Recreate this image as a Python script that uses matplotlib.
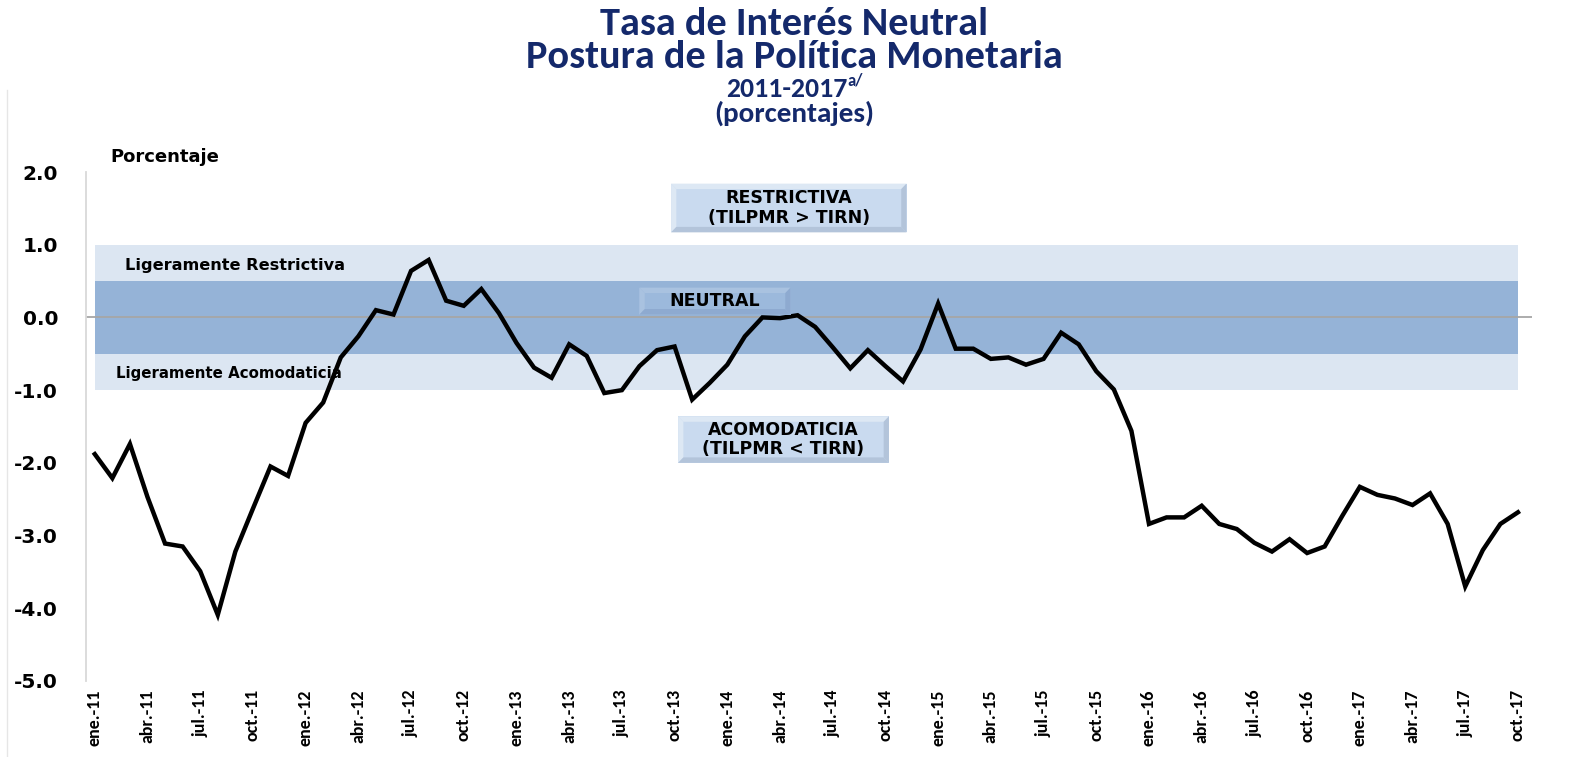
import numpy as np
import matplotlib.pyplot as plt
from matplotlib.patches import Rectangle, Polygon

# datos mensuales ene-2011 a oct-2017
meses = ['ene.', 'feb.', 'mar.', 'abr.', 'may.', 'jun.',
         'jul.', 'ago.', 'sep.', 'oct.', 'nov.', 'dic.']
anios = ['11', '12', '13', '14', '15', '16', '17']

postura = [-1.88, -2.21, -1.74, -2.47, -3.11, -3.15, -3.49, -4.09, -3.22, -2.63, -2.05, -2.18,
           -1.45, -1.17, -0.55, -0.26, 0.10, 0.04, 0.64, 0.79, 0.23, 0.16, 0.39, 0.06,
           -0.35, -0.69, -0.83, -0.37, -0.53, -1.04, -1.00, -0.67, -0.45, -0.40, -1.13, -0.90,
           -0.65, -0.26, 0.00, -0.01, 0.03, -0.13, -0.41, -0.70, -0.45, -0.67, -0.88, -0.44,
           0.19, -0.43, -0.43, -0.57, -0.55, -0.65, -0.57, -0.21, -0.37, -0.74, -0.99, -1.56,
           -2.84, -2.75, -2.75, -2.59, -2.84, -2.91, -3.10, -3.22, -3.05, -3.24, -3.15, -2.73,
           -2.33, -2.44, -2.49, -2.58, -2.42, -2.84, -3.70, -3.20, -2.84, -2.68]

fechas = [f'{m}-{a}' for a in anios for m in meses][:len(postura)]

rango_neutral = (-0.5, 0.5)
rango_ligero = (-1.0, 1.0)
yticks = [2.0, 1.0, 0.0, -1.0, -2.0, -3.0, -4.0, -5.0]

navy = '#14296b'
cal = ['Carlito', 'DejaVu Sans']

fig = plt.figure(figsize=(15.76, 7.57), dpi=100)
ax = fig.add_axes([86 / 1576, 76 / 757, 1446 / 1576, 509 / 757])

x = np.arange(len(postura))

# bandas
ax.fill_between([x[0], x[-1]], rango_ligero[0], rango_ligero[1], color='#dce6f2', lw=0, zorder=0)
ax.fill_between([x[0], x[-1]], rango_neutral[0], rango_neutral[1], color='#95b3d7', lw=0, zorder=0.5)
ax.axhline(0, color='#a6a6a6', lw=1.3, zorder=1)

ax.plot(x, postura, color='black', lw=3.2, zorder=5, solid_joinstyle='miter')

ax.set_xlim(-0.5, len(postura) - 0.2)
ax.set_ylim(-5, 2)
ax.set_yticks(yticks)
ax.set_yticklabels([f'{v:.1f}' for v in yticks], fontsize=14.5, fontweight='bold')
ax.set_xticks(x[::3])
ax.set_xticklabels(fechas[::3], rotation=90, fontsize=13, fontweight='bold', family=cal)
ax.tick_params(axis='both', length=0)
ax.tick_params(axis='y', pad=20)
ax.tick_params(axis='x', pad=6)
for s in ['top', 'right', 'bottom']:
    ax.spines[s].set_visible(False)
ax.spines['left'].set_color('#d9d9d9')
ax.spines['left'].set_linewidth(1.3)

ax.text(0.9, 2.2, 'Porcentaje', fontsize=13, fontweight='bold', va='center')
ax.text(1.7, 0.72, 'Ligeramente Restrictiva', fontsize=11.6, fontweight='bold', va='center')
ax.text(1.2, -0.77, 'Ligeramente Acomodaticia', fontsize=10.8, fontweight='bold', va='center')


def caja(x0, x1, y0, y1, texto, fondo, claro, oscuro):
    dx, dy = 0.3, 0.075
    ax.add_patch(Rectangle((x0, y0), x1 - x0, y1 - y0, facecolor=fondo, lw=0, zorder=6))
    # bisel: arriba/izquierda claro, abajo/derecha oscuro
    ax.add_patch(Polygon([(x0, y1), (x1, y1), (x1 - dx, y1 - dy), (x0 + dx, y1 - dy)],
                         facecolor=claro, lw=0, zorder=6))
    ax.add_patch(Polygon([(x0, y0), (x0, y1), (x0 + dx, y1 - dy), (x0 + dx, y0 + dy)],
                         facecolor=claro, lw=0, zorder=6))
    ax.add_patch(Polygon([(x0, y0), (x1, y0), (x1 - dx, y0 + dy), (x0 + dx, y0 + dy)],
                         facecolor=oscuro, lw=0, zorder=6))
    ax.add_patch(Polygon([(x1, y0), (x1, y1), (x1 - dx, y1 - dy), (x1 - dx, y0 + dy)],
                         facecolor=oscuro, lw=0, zorder=6))
    ax.text((x0 + x1) / 2, (y0 + y1) / 2, texto, ha='center', va='center',
            fontsize=12.5, fontweight='bold', linespacing=1.1, zorder=7)


caja(32.8, 46.2, 1.17, 1.84, 'RESTRICTIVA\n(TILPMR > TIRN)', '#c9daef', '#dde8f4', '#b3c4da')
caja(31.0, 39.6, 0.04, 0.41, 'NEUTRAL', '#9cb9dc', '#a9c2e0', '#8eaad0')
caja(33.2, 45.2, -2.0, -1.36, 'ACOMODATICIA\n(TILPMR < TIRN)', '#c9daef', '#dde8f4', '#b3c4da')

# titulo
fig.text(0.504, 1 - 24 / 757, 'Tasa de Interés Neutral', ha='center', va='center',
         fontsize=29, fontweight='bold', color=navy, family=cal)
fig.text(0.504, 1 - 57 / 757, 'Postura de la Política Monetaria', ha='center', va='center',
         fontsize=29, fontweight='bold', color=navy, family=cal)
t3 = fig.text(0.499, 1 - 89 / 757, '2011-2017', ha='center', va='center',
              fontsize=20, fontweight='bold', color=navy, family=cal)
ax.annotate('a/', xy=(1.0, 0.5), xycoords=t3, fontsize=12, fontweight='bold',
            color=navy, family=cal, va='bottom', ha='left')
fig.text(0.504, 1 - 113 / 757, '(porcentajes)', ha='center', va='center',
         fontsize=21, fontweight='bold', color=navy, family=cal)

# borde izquierdo del area del grafico
fig.add_artist(plt.Line2D([7 / 1576, 7 / 1576], [0, 1 - 90 / 757], color='#e6e6e6', lw=1))

fig.savefig('out.png', dpi=100)
